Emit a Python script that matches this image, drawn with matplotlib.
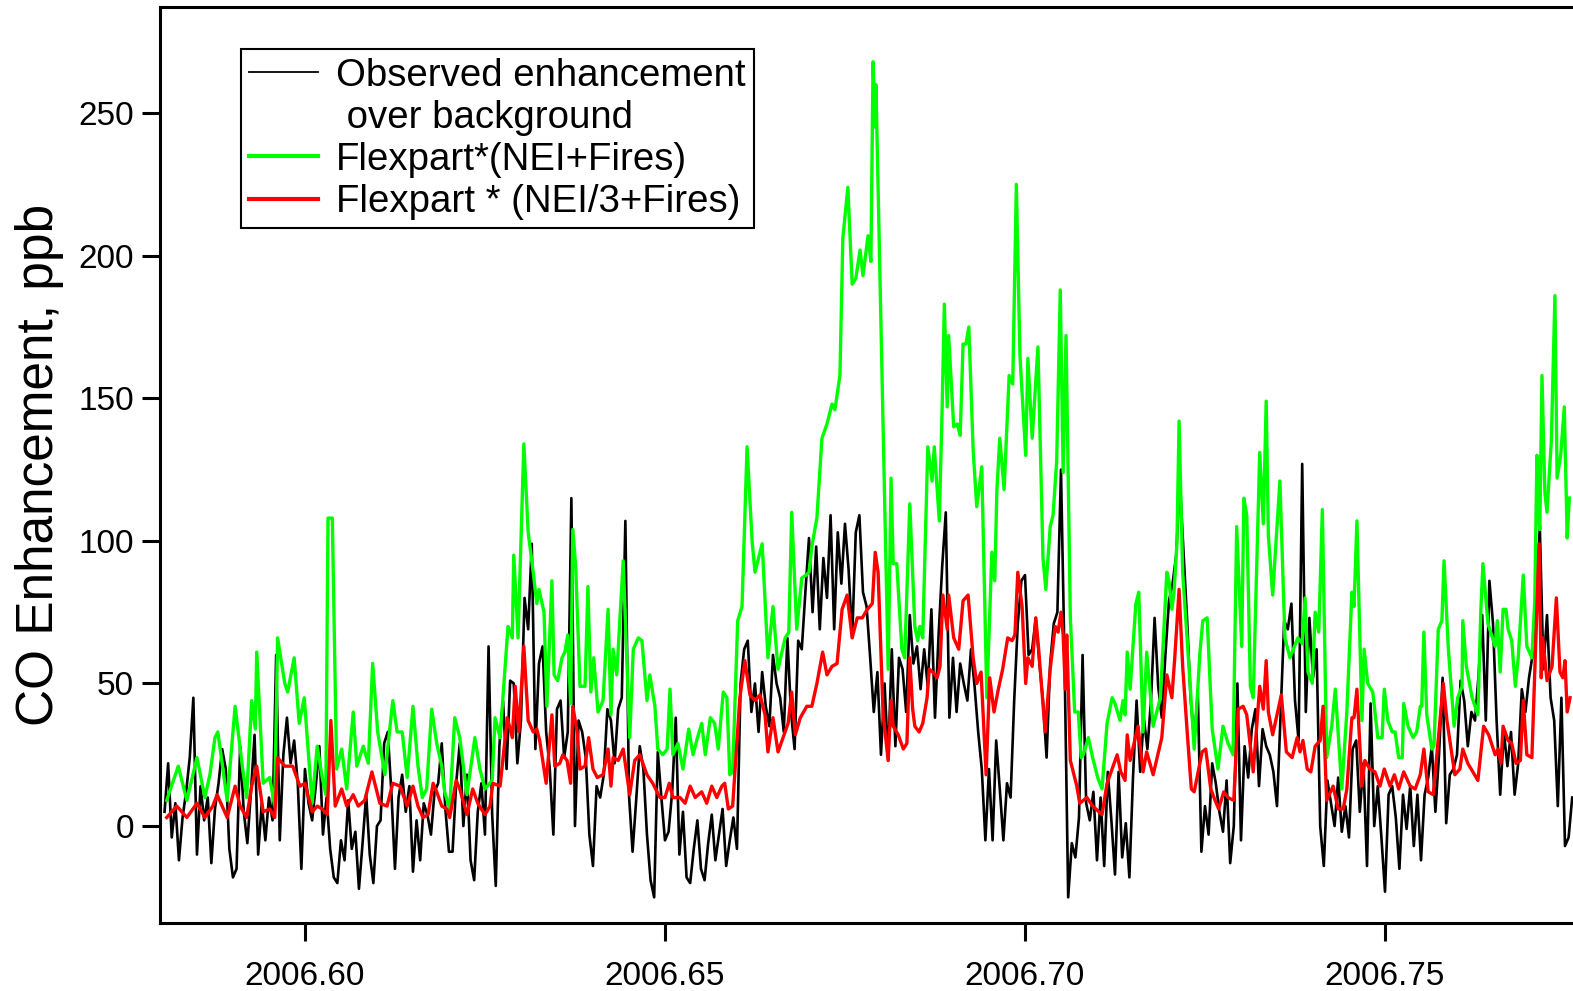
import numpy as np
import matplotlib.pyplot as plt
from matplotlib.lines import Line2D
from matplotlib.ticker import FormatStrFormatter

plt.rcParams['font.family'] = ['Liberation Sans', 'DejaVu Sans']

# observed CO enhancement over background (ppb), one value every 0.0005 yr
obs_start = 2006.5805
obs_step = 0.0005
obs_ppb = [
    5, 22, -4, 8, -12, 3, 12, 24, 45, -10, 14, 2, 10, -13, 6, 15, 27, 20, -8, -18,
    -15, 28, 5, -6, 12, 32, -10, 8, -5, 10, 2, 60, -5, 25, 38, 22, 30, 15, -15, 20,
    8, 2, 14, 28, -3, 10, -8, -18, -20, -5, -12, 9, -8, -2, -22, -6, 11, -10, -20, 0,
    2, 29, 33, 12, -15, 10, 18, 5, 14, -16, 2, -12, 8, 4, -3, 12, 15, 29, 6, -9,
    -9, 15, 29, 0, 18, -12, -19, 5, 15, -3, 63, 4, -21, 28, 44, 20, 51, 50, 22, 37,
    80, 69, 99, 27, 57, 63, 33, 20, -3, 41, 44, 24, 33, 115, 0, 37, 33, 24, -3, -14,
    14, 10, 18, 41, 37, 22, 41, 45, 107, 11, -9, 9, 28, 20, -3, -19, -25, 26, 10, -5,
    -2, 12, 38, -10, 5, -18, -20, -8, 2, -15, -19, -6, 4, -12, -3, 6, -14, -5, 3, -8,
    50, 62, 65, 40, 50, 33, 54, 42, 35, 60, 50, 45, 33, 66, 40, 27, 65, 62, 82, 101,
    75, 98, 69, 94, 80, 109, 69, 103, 85, 106, 90, 66, 103, 109, 82, 77, 59, 40, 54, 25,
    50, 23, 62, 28, 59, 55, 40, 74, 57, 63, 48, 62, 49, 76, 38, 67, 91, 110, 38, 59,
    40, 57, 50, 44, 62, 49, 33, 20, -5, 20, -5, 30, 13, -5, 15, 10, 44, 71, 86, 88,
    60, 62, 73, 57, 44, 24, 57, 71, 75, 125, 57, -25, -6, -11, 3, 60, 8, 2, 12, -12,
    10, -14, 19, 2, -17, 19, -11, 1, -18, 17, 44, 19, 38, 27, 44, 73, 49, 38, 60, 79,
    85, 95, 121, 97, 73, 45, 30, 47, -9, 7, -3, 22, 15, 5, -2, 16, -13, 0, 50, -5,
    28, 17, 34, 41, 14, 34, 28, 25, 19, 7, 39, 72, 69, 78, 44, 30, 127, 40, 73, 52,
    62, 0, -14, 16, 8, 0, 17, -2, 7, -4, 27, 30, 5, 22, -14, 43, 0, 14, -4, -23,
    11, 14, 3, -15, 11, -1, 14, -7, 11, -12, 11, 17, 28, 5, 25, 52, 1, 18, 20, 25,
    51, 44, 28, 40, 37, 53, 74, 37, 86, 71, 37, 11, 33, 21, 33, 11, 22, 48, 40, 52,
    60, 78, 105, 55, 74, 45, 37, 7, 45, -7, -4, 10,
]

# Flexpart * (NEI + Fires): time as fraction of 2006, value in ppb
nei_t = [
    .5808, .5824, .5836, .5850, .5861, .5868, .5875, .5879, .5892, .5903,
    .5913, .5919, .5926, .5931, .5933, .5942, .5951, .5958, .5962, .5972,
    .5976, .5985, .5992, .5999, .6010, .6017, .6024, .6029, .6032, .6038,
    .6044, .6051, .6058, .6067, .6072, .6081, .6088, .6094, .6101, .6111,
    .6122, .6128, .6135, .6142, .6150, .6157, .6163, .6169, .6176, .6183,
    .6190, .6194, .6201, .6208, .6215, .6225, .6236, .6243, .6250, .6260,
    .6264, .6271, .6282, .6288, .6290, .6296, .6304, .6310, .6317, .6322,
    .6325, .6332, .6336, .6343, .6346, .6351, .6357, .6361, .6365, .6369,
    .6372, .6376, .6382, .6389, .6393, .6397, .6401, .6407, .6414, .6421,
    .6425, .6428, .6433, .6442, .6451, .6456, .6463, .6468, .6475, .6479,
    .6486, .6490, .6497, .6503, .6507, .6511, .6518, .6525, .6533, .6539,
    .6544, .6551, .6556, .6563, .6569, .6574, .6581, .6586, .6590, .6594,
    .6601, .6607, .6614, .6621, .6625, .6635, .6643, .6650, .6657, .6667,
    .6672, .6676, .6683, .6690, .6696, .6700, .6704, .6711, .6718, .6725,
    .6732, .6736, .6743, .6747, .6754, .6760, .6765, .6771, .6775, .6782,
    .6786, .6789, .6792, .6793, .6810, .6814, .6817, .6822, .6824, .6829,
    .6833, .6840, .6847, .6851, .6854, .6858, .6865, .6871, .6874, .6881,
    .6885, .6888, .6892, .6894, .6901, .6906, .6910, .6914, .6918, .6922,
    .6928, .6933, .6940, .6947, .6954, .6958, .6961, .6965, .6971, .6978,
    .6983, .6988, .6993, .7001, .7004, .7010, .7018, .7025, .7029, .7035,
    .7039, .7044, .7049, .7053, .7057, .7063, .7069, .7074, .7078, .7081,
    .7088, .7094, .7101, .7107, .7114, .7121, .7125, .7132, .7136, .7139,
    .7142, .7146, .7154, .7158, .7164, .7169, .7178, .7188, .7197, .7200,
    .7204, .7207, .7211, .7214, .7219, .7229, .7235, .7243, .7247, .7253,
    .7260, .7268, .7275, .7282, .7289, .7294, .7301, .7304, .7308, .7313,
    .7317, .7326, .7331, .7335, .7338, .7344, .7354, .7361, .7368, .7379,
    .7385, .7389, .7393, .7399, .7403, .7408, .7413, .7419, .7426, .7431,
    .7440, .7447, .7454, .7457, .7461, .7468, .7471, .7476, .7483, .7490,
    .7496, .7499, .7504, .7510, .7514, .7519, .7524, .7526, .7532, .7539,
    .7544, .7549, .7551, .7554, .7558, .7565, .7568, .7574, .7579, .7582,
    .7588, .7596, .7601, .7607, .7608, .7613, .7621, .7629, .7633, .7636,
    .7643, .7653, .7656, .7660, .7664, .7668, .7671, .7676, .7681, .7685,
    .7692, .7697, .7704, .7708, .7711, .7713, .7715, .7718, .7722, .7725,
    .7731, .7736, .7739, .7744, .7749, .7753, .7756,
]
nei_ppb = [
    9, 21, 9, 24, 10, 18, 31, 33, 9, 42,
    21, 10, 44, 34, 61, 15, 17, 7, 66, 50,
    47, 59, 36, 45, 8, 28, 17, 11, 108, 108,
    20, 27, 13, 40, 21, 28, 22, 57, 33, 18,
    44, 33, 33, 17, 42, 21, 10, 13, 41, 29,
    21, 12, 6, 38, 31, 11, 31, 20, 13, 16,
    38, 31, 70, 66, 95, 66, 134, 103, 89, 78,
    83, 75, 42, 86, 53, 51, 59, 61, 67, 43,
    104, 91, 49, 49, 84, 47, 59, 40, 44, 76,
    39, 62, 53, 93, 31, 62, 66, 65, 44, 53,
    42, 27, 25, 27, 48, 25, 29, 20, 34, 25,
    30, 36, 25, 38, 36, 27, 47, 45, 18, 19,
    72, 77, 133, 100, 89, 99, 59, 77, 55, 66,
    68, 110, 69, 87, 88, 89, 98, 108, 136, 141,
    148, 146, 158, 206, 224, 190, 192, 202, 193, 207,
    198, 268, 245, 260, 55, 122, 92, 92, 83, 62,
    59, 113, 70, 65, 70, 66, 133, 121, 133, 107,
    147, 183, 147, 172, 140, 141, 137, 169, 169, 175,
    132, 112, 126, 45, 96, 86, 118, 136, 118, 158,
    155, 225, 165, 130, 164, 136, 168, 94, 83, 105,
    109, 128, 188, 124, 172, 73, 40, 40, 24, 25,
    31, 24, 17, 13, 36, 45, 43, 37, 44, 39,
    61, 48, 78, 82, 33, 61, 35, 45, 89, 86,
    76, 82, 99, 142, 89, 51, 27, 61, 72, 73,
    34, 20, 35, 29, 25, 105, 63, 115, 109, 49,
    45, 131, 106, 149, 102, 81, 121, 66, 59, 66,
    64, 80, 54, 50, 75, 68, 111, 24, 35, 48,
    13, 40, 82, 77, 107, 37, 62, 50, 47, 31,
    31, 48, 37, 33, 33, 24, 24, 43, 35, 31,
    33, 42, 42, 68, 39, 27, 28, 69, 72, 93,
    62, 35, 45, 49, 72, 56, 45, 39, 75, 92,
    71, 63, 72, 54, 76, 76, 69, 65, 49, 59,
    88, 63, 59, 79, 130, 111, 104, 158, 117, 110,
    135, 186, 122, 130, 147, 101, 115,
]

# Flexpart * (NEI/3 + Fires)
nei3_t = [
    .5808, .5822, .5836, .5850, .5861, .5872, .5878, .5892, .5903, .5910,
    .5919, .5926, .5933, .5942, .5951, .5958, .5962, .5972, .5983, .5993,
    .6000, .6010, .6017, .6024, .6031, .6036, .6042, .6051, .6058, .6067,
    .6074, .6083, .6093, .6104, .6114, .6122, .6132, .6142, .6150, .6157,
    .6164, .6171, .6178, .6183, .6190, .6197, .6201, .6210, .6215, .6225,
    .6233, .6240, .6250, .6257, .6261, .6271, .6281, .6288, .6292, .6297,
    .6304, .6310, .6317, .6322, .6326, .6335, .6343, .6347, .6354, .6358,
    .6364, .6369, .6372, .6378, .6382, .6389, .6394, .6400, .6406, .6414,
    .6421, .6425, .6428, .6435, .6442, .6451, .6458, .6465, .6475, .6483,
    .6493, .6500, .6506, .6511, .6521, .6528, .6535, .6542, .6551, .6558,
    .6565, .6572, .6579, .6583, .6588, .6594, .6604, .6611, .6618, .6625,
    .6632, .6639, .6643, .6650, .6657, .6664, .6671, .6676, .6681, .6688,
    .6697, .6704, .6711, .6719, .6725, .6732, .6739, .6746, .6753, .6760,
    .6767, .6774, .6781, .6788, .6792, .6796, .6803, .6810, .6814, .6817,
    .6824, .6831, .6836, .6840, .6844, .6847, .6853, .6858, .6864, .6867,
    .6872, .6878, .6882, .6886, .6892, .6894, .6901, .6908, .6914, .6921,
    .6928, .6933, .6939, .6946, .6951, .6957, .6963, .6969, .6976, .6982,
    .6986, .6990, .6996, .7001, .7004, .7010, .7015, .7019, .7028, .7035,
    .7042, .7046, .7050, .7053, .7056, .7058, .7063, .7072, .7076, .7086,
    .7094, .7107, .7114, .7121, .7128, .7133, .7139, .7142, .7146, .7157,
    .7164, .7169, .7178, .7190, .7197, .7204, .7208, .7214, .7219, .7225,
    .7231, .7235, .7246, .7251, .7258, .7264, .7269, .7276, .7282, .7290,
    .7296, .7303, .7308, .7317, .7326, .7331, .7335, .7338, .7344, .7356,
    .7363, .7371, .7378, .7382, .7386, .7392, .7397, .7403, .7410, .7414,
    .7419, .7428, .7435, .7442, .7447, .7454, .7457, .7461, .7468, .7472,
    .7479, .7486, .7493, .7499, .7507, .7513, .7519, .7526, .7535, .7542,
    .7549, .7554, .7560, .7567, .7572, .7581, .7586, .7597, .7604, .7608,
    .7615, .7629, .7637, .7644, .7653, .7657, .7661, .7664, .7671, .7676,
    .7682, .7688, .7692, .7697, .7704, .7708, .7714, .7717, .7719, .7725,
    .7732, .7738, .7743, .7747, .7750, .7753, .7757,
]
nei3_ppb = [
    3, 7, 3, 8, 3, 7, 11, 3, 14, 7,
    3, 14, 21, 5, 6, 3, 24, 21, 21, 14,
    15, 5, 7, 6, 4, 37, 7, 13, 7, 11,
    7, 9, 19, 8, 7, 15, 14, 7, 14, 7,
    3, 4, 15, 12, 7, 6, 3, 16, 13, 4,
    13, 8, 4, 7, 15, 14, 38, 31, 49, 33,
    63, 37, 33, 34, 30, 15, 39, 21, 22, 25,
    23, 15, 42, 33, 20, 21, 31, 20, 17, 18,
    27, 14, 24, 23, 27, 11, 23, 25, 18, 15,
    10, 10, 15, 10, 10, 8, 14, 10, 12, 8,
    14, 10, 14, 15, 6, 7, 45, 58, 46, 44,
    46, 39, 26, 38, 26, 31, 36, 47, 32, 38,
    42, 42, 50, 61, 53, 56, 57, 76, 81, 66,
    73, 73, 76, 78, 96, 89, 39, 23, 44, 35,
    32, 27, 29, 59, 41, 35, 33, 36, 45, 55,
    54, 52, 56, 81, 69, 81, 66, 62, 79, 81,
    59, 50, 54, 18, 52, 40, 48, 55, 66, 65,
    67, 89, 77, 50, 59, 56, 73, 62, 33, 55,
    70, 68, 75, 67, 48, 67, 23, 14, 8, 10,
    7, 4, 15, 20, 25, 19, 16, 32, 23, 35,
    19, 26, 18, 31, 53, 45, 59, 83, 56, 34,
    13, 12, 26, 27, 13, 9, 6, 12, 10, 9,
    41, 42, 39, 19, 49, 41, 58, 40, 32, 46,
    26, 24, 31, 26, 30, 20, 19, 28, 30, 42,
    9, 14, 6, 6, 13, 38, 38, 48, 14, 23,
    20, 19, 14, 20, 14, 18, 13, 19, 14, 13,
    18, 27, 12, 11, 25, 50, 37, 18, 20, 27,
    22, 16, 35, 32, 25, 27, 22, 35, 30, 29,
    22, 23, 44, 25, 24, 54, 99, 52, 66, 51,
    56, 80, 54, 52, 58, 40, 45,
]

obs_t = obs_start + obs_step * np.arange(len(obs_ppb))

fig = plt.figure(figsize=(15.73, 9.91), dpi=100)
ax = fig.add_axes([0.102, 0.0686, 0.898, 0.9243])

h_obs, = ax.plot(obs_t, obs_ppb, color='black', lw=1.9)
h_nei, = ax.plot(2006 + np.array(nei_t), nei_ppb, color='#00ff00', lw=2.4)
h_nei3, = ax.plot(2006 + np.array(nei3_t), nei3_ppb, color='#ff0000', lw=2.4)

ax.set_xlim(2006.57993, 2006.77611)
ax.set_ylim(-34, 287.2)
ax.set_xticks([2006.60, 2006.65, 2006.70, 2006.75])
ax.set_yticks([0, 50, 100, 150, 200, 250])
ax.xaxis.set_major_formatter(FormatStrFormatter('%.2f'))

for side in ['left', 'bottom', 'top']:
    ax.spines[side].set_linewidth(2.2)
ax.spines['right'].set_visible(False)
ax.tick_params(direction='out', length=13, width=2.2, labelsize=24)
ax.tick_params(axis='x', pad=14)
ax.tick_params(axis='y', pad=6)

ax.set_ylabel('CO Enhancement, ppb', fontsize=37)
ax.yaxis.set_label_coords(-0.068, 0.5)

# second line of the first entry gets an empty handle
blank = Line2D([], [], color='none')
leg = ax.legend([h_obs, blank, h_nei, h_nei3],
                ['Observed enhancement', ' over background',
                 'Flexpart*(NEI+Fires)', 'Flexpart * (NEI/3+Fires)'],
                loc='upper left', bbox_to_anchor=(0.057, 0.954), borderaxespad=0,
                fontsize=27.6, fancybox=False, framealpha=1, edgecolor='black',
                handlelength=1.8, handletextpad=0.45, borderpad=0.22,
                labelspacing=0.16)
leg.get_frame().set_linewidth(1.5)
leg.get_lines()[0].set_linewidth(1.3)
for line in leg.get_lines()[2:]:
    line.set_linewidth(3)

fig.savefig('out.png', dpi=100)
